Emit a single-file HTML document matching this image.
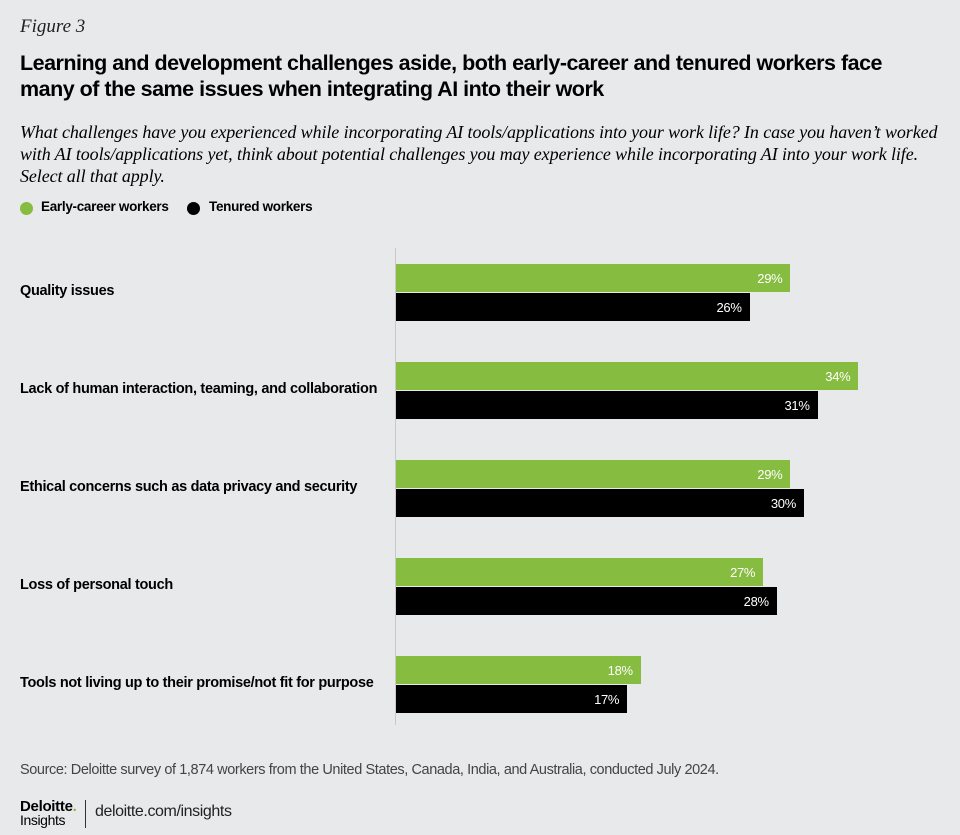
<!DOCTYPE html>
<html><head><meta charset="utf-8"><style>
body{margin:0;background:#e8e9eb;}
#root{position:relative;width:960px;height:835px;background:#e8e9eb;font-family:"Liberation Sans",sans-serif;color:#000;overflow:hidden;}
.fig{position:absolute;left:20px;top:16px;font-family:"Liberation Serif",serif;font-style:italic;font-size:19px;color:#222;}
.title{position:absolute;left:20px;top:50px;font-size:21.5px;font-weight:bold;line-height:26px;letter-spacing:-0.5px;white-space:nowrap;}
.sub{position:absolute;left:20px;top:121px;font-family:"Liberation Serif",serif;font-style:italic;font-size:18px;line-height:22px;white-space:nowrap;letter-spacing:-0.1px;}
.legend{position:absolute;top:199px;font-size:13.5px;font-weight:bold;letter-spacing:-0.3px;}
.dot{position:absolute;top:202px;width:13px;height:13px;border-radius:50%;}
.cat{position:absolute;left:20px;font-size:14.5px;font-weight:bold;letter-spacing:-0.3px;}
.val{position:absolute;color:#fff;font-size:13px;text-align:right;letter-spacing:-0.3px;}
.src{position:absolute;left:20px;top:762px;font-size:14.5px;color:#444;letter-spacing:-0.4px;}
</style></head><body>
<div id="root">
<div class="fig">Figure 3</div>
<div class="title">Learning and development challenges aside, both early-career and tenured workers face<br>many of the same issues when integrating AI into their work</div>
<div class="sub">What challenges have you experienced while incorporating AI tools/applications into your work life? In case you haven’t worked<br>with AI tools/applications yet, think about potential challenges you may experience while incorporating AI into your work life.<br>Select all that apply.</div>
<div class="dot" style="left:20px;background:#86bc40"></div>
<div class="legend" style="left:41px">Early-career workers</div>
<div class="dot" style="left:187px;background:#000"></div>
<div class="legend" style="left:209px">Tenured workers</div>
<div id="plot"></div>
<div class="src">Source: Deloitte survey of 1,874 workers from the United States, Canada, India, and Australia, conducted July 2024.</div>
<div style="position:absolute;left:20px;top:798px;font-size:15px;font-weight:bold;letter-spacing:-0.3px">Deloitte<span style="color:#86bc40">.</span></div>
<div style="position:absolute;left:20px;top:812px;font-size:14px;letter-spacing:-0.4px">Insights</div>
<div style="position:absolute;left:85px;top:800px;width:1px;height:28px;background:#333"></div>
<div style="position:absolute;left:95px;top:803px;font-size:16px;color:#222;letter-spacing:-0.4px">deloitte.com/insights</div>
</div>
<script>
const categories=["Quality issues","Lack of human interaction, teaming, and collaboration","Ethical concerns such as data privacy and security","Loss of personal touch","Tools not living up to their promise/not fit for purpose"];
const earlyCareer=[29,34,29,27,18];
const tenured=[26,31,30,28,17];
const seriesNames=["early-career","tenured"];
const x0=396,pxPer=13.6,top0=264,groupGap=98,barH=28;
function xScale(v){return v*pxPer;}
function yGroup(i){return top0+i*groupGap;}
const plot=document.getElementById('plot');
const axis=document.createElement('div');


axis.style.cssText='position:absolute;left:'+(x0-1)+'px;top:248px;width:1px;height:477px;background:#c8c8c8';
plot.appendChild(axis);
categories.forEach((c,i)=>{
  const y=yGroup(i);
  const l=document.createElement('div');
  l.className='cat';
  
  
  l.style.top=(y+19)+'px';
  l.textContent=c;
  plot.appendChild(l);
  [[earlyCareer,'#86bc40',0],[tenured,'#000',1]].forEach(([arr,col,k])=>{
    const w=xScale(arr[i]);
    const b=document.createElement('div');
    
    
    b.style.cssText='position:absolute;left:'+x0+'px;top:'+(y+k*(barH+1))+'px;width:'+w+'px;height:'+barH+'px;background:'+col;
    plot.appendChild(b);
    const t=document.createElement('div');
    t.className='val';
    
    
    t.style.left=(x0+w-60)+'px';t.style.width='52px';
    t.style.top=(y+k*(barH+1)+7)+'px';
    t.textContent=arr[i]+'%';
    plot.appendChild(t);
  });
});
</script>
</body></html>
